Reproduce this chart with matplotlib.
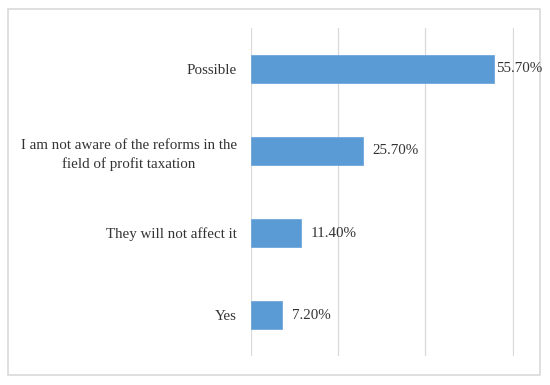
import matplotlib.pyplot as plt
from matplotlib.patches import Rectangle

categories = ["Yes", "They will not affect it",
              "I am not aware of the reforms in the\nfield of profit taxation",
              "Possible"]
values = [7.2, 11.4, 25.7, 55.7]
value_labels = ["7.20%", "11.40%", "25.70%", "55.70%"]

plt.rcParams['font.family'] = ['Liberation Serif', 'DejaVu Serif']
text_color = '#333333'
fs = 10.8

fig = plt.figure(figsize=(5.5, 3.85), dpi=100)
# light grey frame round the whole chart
fig.patches.append(Rectangle((0.0145, 0.026), 0.967, 0.951, transform=fig.transFigure,
                             facecolor='none', edgecolor='#d9d9d9', linewidth=1.2, zorder=-1))

ax = fig.add_axes([0.4564, 0.0753, 0.4782, 0.852])
ax.set_facecolor('none')
pos = range(len(categories))
ax.barh(pos, values, height=0.34, color='#5b9bd5', edgecolor='#6fa8dc', linewidth=0.6, zorder=2)

ax.set_xlim(0, 60.3)
ax.set_ylim(-0.5, 3.5)
ax.set_xticks([0, 20, 40, 60])
ax.xaxis.grid(True, color='#d9d9d9', linewidth=0.9, zorder=0)
ax.tick_params(axis='x', length=0, labelbottom=False)
ax.tick_params(axis='y', length=0, pad=10)
ax.set_yticks(list(pos))
ax.set_yticklabels(categories, fontsize=fs, color=text_color, multialignment='center',
                   linespacing=1.45)
for s in ax.spines.values():
    s.set_visible(False)

for i, (v, lab) in enumerate(zip(values, value_labels)):
    off = 1.5 if v > 50 else 7
    ax.annotate(lab, (v, i), xytext=(off, 0), textcoords='offset points',
                va='center', ha='left', fontsize=fs, color=text_color)

fig.savefig('out.png', dpi=100)
